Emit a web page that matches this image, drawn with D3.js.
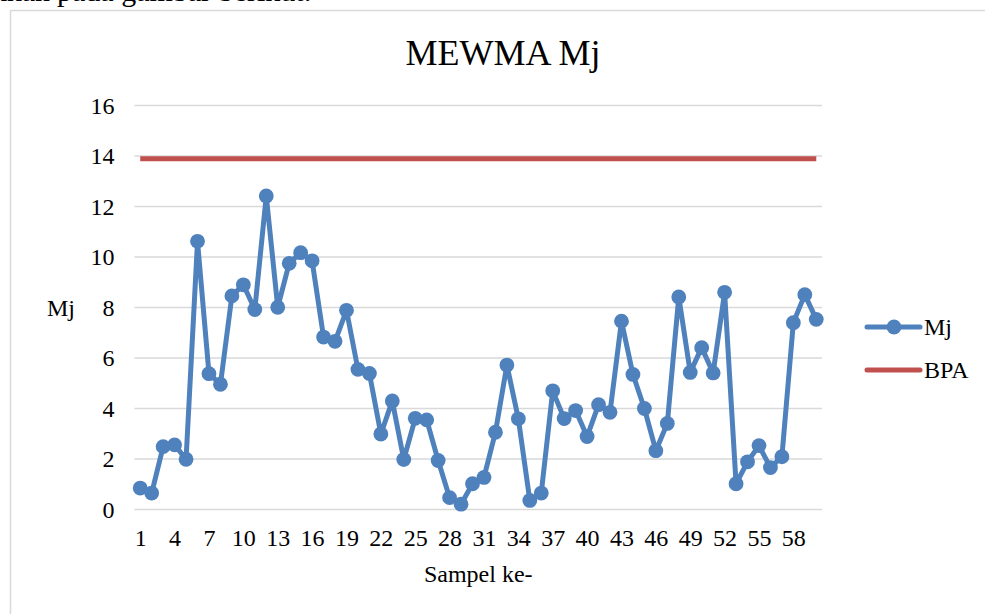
<!DOCTYPE html>
<html>
<head>
<meta charset="utf-8">
<script src="https://cdn.jsdelivr.net/npm/d3@7/dist/d3.min.js"></script>
<style>
  html, body { margin: 0; padding: 0; background: #fff; }
  svg { display: block; }
  text { font-family: "Liberation Serif", "Times New Roman", serif; fill: #000; }
</style>
</head>
<body>
<svg id="chart" width="985" height="614"></svg>
<script>
const chartTitle = "MEWMA Mj";
const yTitle = "Mj";
const xTitle = "Sampel ke-";
const categories = d3.range(1, 61);
const mjValues = [
  0.83, 0.63, 2.47, 2.54, 1.97, 10.6, 5.36, 4.94, 8.44, 8.88,
  7.9, 12.4, 7.99, 9.73, 10.15, 9.83, 6.81, 6.64, 7.87, 5.53,
  5.37, 2.97, 4.28, 1.96, 3.59, 3.53, 1.92, 0.45, 0.19, 1.0,
  1.25, 3.04, 5.7, 3.57, 0.34, 0.63, 4.68, 3.58, 3.9, 2.87,
  4.13, 3.83, 7.44, 5.33, 3.98, 2.31, 3.39, 8.4, 5.41, 6.39,
  5.39, 8.58, 1.0, 1.87, 2.51, 1.64, 2.07, 7.38, 8.49, 7.51
];
const bpaValue = 13.87;
const bpaValues = categories.map(() => bpaValue);
const yTicks = [0, 2, 4, 6, 8, 10, 12, 14, 16];
const xTickLabels = categories.filter(c => (c - 1) % 3 === 0);
const seriesNames = ["Mj", "BPA"];
const colors = { Mj: "#4f81bd", BPA: "#c0504d" };

const svg = d3.select("#chart");

// page text cut at top (as in the reference)
svg.append("text").attr("x", 50).attr("y", 1).attr("text-anchor", "end")
  .style("font-size", "30px").text("ditunjukkan");
svg.append("text").attr("x", 57).attr("y", 1)
  .style("font-size", "30px").text("pada gambar berikut:");

// chart border
svg.append("rect").attr("x", 10.5).attr("y", 10.5).attr("width", 990).attr("height", 620)
  .attr("fill", "none").attr("stroke", "#d9d9d9").attr("stroke-width", 1.5);

const plotL = 134.5, plotR = 822, plotT = 105, plotB = 509;
const x = d3.scalePoint().domain(categories).range([plotL, plotR]).padding(0.5);
const y = d3.scaleLinear().domain([0, 16]).range([plotB, plotT]);

// gridlines + y labels
const yAxis = d3.axisLeft(y).tickValues(yTicks).tickSize(-(plotR - plotL)).tickPadding(20);
const gy = svg.append("g").attr("transform", `translate(${plotL},0)`).call(yAxis);
gy.select(".domain").remove();
gy.selectAll(".tick line").attr("stroke", "#d9d9d9").attr("stroke-width", 1.6);
gy.selectAll(".tick text").style("font-size", "24px").attr("font-family", null)
  .attr("dy", "0.34em").attr("fill", "#000");

// x axis labels
const xAxis = d3.axisBottom(x).tickValues(xTickLabels).tickSize(0).tickPadding(20);
const gx = svg.append("g").attr("transform", `translate(0,${plotB})`).call(xAxis);
gx.select(".domain").remove();
gx.selectAll(".tick text").style("font-size", "24px").attr("font-family", null)
  .attr("dy", "0.71em").attr("fill", "#000");

// BPA line
const line = d3.line().x((d, i) => x(categories[i])).y(d => y(d));
svg.append("path").datum(bpaValues).attr("d", line)
  .attr("fill", "none").attr("stroke", colors.BPA).attr("stroke-width", 5);

// Mj line
svg.append("path").datum(mjValues).attr("d", line)
  .attr("fill", "none").attr("stroke", colors.Mj).attr("stroke-width", 5)
  .attr("stroke-linejoin", "round");
svg.append("g").selectAll("circle").data(mjValues).join("circle")
  .attr("cx", (d, i) => x(categories[i])).attr("cy", d => y(d)).attr("r", 7.4)
  .attr("fill", colors.Mj);

// titles
svg.append("text").attr("x", 503).attr("y", 65).attr("text-anchor", "middle")
  .style("font-size", "36px").text(chartTitle);
svg.append("text").attr("x", 47).attr("y", 316)
  .style("font-size", "24px").text(yTitle);
svg.append("text").attr("x", (plotL + plotR) / 2).attr("y", 582).attr("text-anchor", "middle")
  .style("font-size", "24px").text(xTitle);

// legend
const leg = svg.append("g");
seriesNames.forEach((name, i) => {
  const ly = 327 + i * 43;
  leg.append("line").attr("x1", 867).attr("x2", 920).attr("y1", ly).attr("y2", ly)
    .attr("stroke", colors[name]).attr("stroke-width", 5).attr("stroke-linecap", "round");
  if (name === "Mj") {
    leg.append("circle").attr("cx", 894).attr("cy", ly).attr("r", 7.4).attr("fill", colors[name]);
  }
  leg.append("text").attr("x", 924).attr("y", ly + 8).style("font-size", "24px").text(name);
});
</script>
</body>
</html>
